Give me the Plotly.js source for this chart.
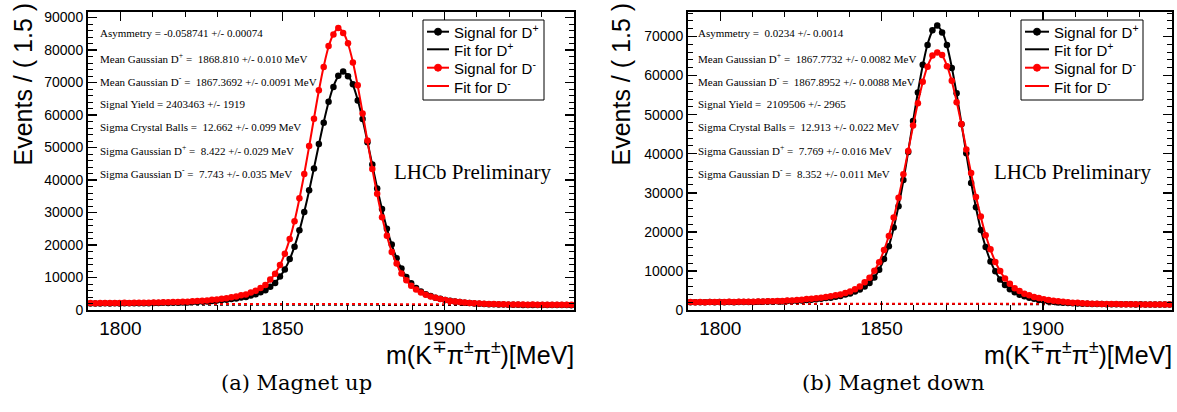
<!DOCTYPE html>
<html>
<head>
<meta charset="utf-8">
<script src="https://cdn.plot.ly/plotly-3.0.1.min.js"></script>
<style>
  html, body { margin: 0; padding: 0; background: #ffffff; }
  #chart { width: 1177px; height: 412px; }
</style>
</head>
<body>
<div id="chart"></div>
<script>
// Bin centres of the m(K pi pi) histograms: 100 bins of 1.5 MeV from 1790 to 1940
const mass = [
  1790.75,1792.25,1793.75,1795.25,1796.75,1798.25,1799.75,1801.25,1802.75,1804.25,
  1805.75,1807.25,1808.75,1810.25,1811.75,1813.25,1814.75,1816.25,1817.75,1819.25,
  1820.75,1822.25,1823.75,1825.25,1826.75,1828.25,1829.75,1831.25,1832.75,1834.25,
  1835.75,1837.25,1838.75,1840.25,1841.75,1843.25,1844.75,1846.25,1847.75,1849.25,
  1850.75,1852.25,1853.75,1855.25,1856.75,1858.25,1859.75,1861.25,1862.75,1864.25,
  1865.75,1867.25,1868.75,1870.25,1871.75,1873.25,1874.75,1876.25,1877.75,1879.25,
  1880.75,1882.25,1883.75,1885.25,1886.75,1888.25,1889.75,1891.25,1892.75,1894.25,
  1895.75,1897.25,1898.75,1900.25,1901.75,1903.25,1904.75,1906.25,1907.75,1909.25,
  1910.75,1912.25,1913.75,1915.25,1916.75,1918.25,1919.75,1921.25,1922.75,1924.25,
  1925.75,1927.25,1928.75,1930.25,1931.75,1933.25,1934.75,1936.25,1937.75,1939.25
];

// (a) Magnet up
const upSignalDplus = [
  1980,2031,1995,2048,2010,2061,2025,2070,2040,2095,2052,2110,2081,2150,2128,2199,2185,2260,2249,2330,
  2340,2450,2470,2600,2630,2805,2890,3070,3160,3375,3540,3840,4030,4480,4830,5470,6110,7160,8330,10300,
  12480,15680,19500,24520,30120,36850,43550,51050,57600,64100,68650,72050,73400,71950,69450,64450,58800,51600,44750,37380,
  31100,24980,20180,15890,12760,10120,8250,6760,5730,4880,4300,3785,3435,3090,2860,2610,2450,2262,2160,2028,
  1952,1858,1800,1738,1705,1656,1640,1598,1595,1563,1565,1540,1542,1519,1528,1510,1519,1503,1511,1495
];
const upFitDplus = [
  2005,2008,2019,2022,2032,2035,2046,2049,2059,2069,2073,2083,2100,2125,2149,2174,2206,2238,2269,2308,
  2361,2422,2489,2571,2653,2778,2917,3041,3187,3348,3566,3812,4058,4447,4858,5433,6144,7113,8374,10251,
  12542,15598,19584,24420,30229,36703,43699,50873,57776,63900,68822,71878,73190,72156,69264,64619,58631,51777,44602,37526,
  30987,25099,20090,15975,12696,10175,8212,6799,5702,4911,4285,3809,3419,3108,2846,2628,2438,2276,2151,2040,
  1943,1867,1792,1745,1698,1665,1633,1607,1589,1571,1559,1548,1537,1526,1522,1518,1514,1510,1506,1502
];
const upSignalDminus = [
  2161,2109,2170,2128,2141,2187,2156,2201,2176,2230,2199,2262,2238,2301,2296,2370,2361,2448,2459,2551,
  2575,2690,2737,2881,2930,3170,3268,3490,3610,3902,4141,4510,4806,5390,5940,6750,7702,9360,11140,13840,
  17300,21880,27330,34350,41850,50450,58880,67600,74800,81200,84750,86800,85250,82100,76150,69150,60500,52150,43350,35750,
  28520,22880,17850,14290,11210,9170,7440,6330,5350,4730,4120,3745,3360,3095,2800,2645,2430,2310,2150,2090,
  1965,1925,1835,1825,1760,1748,1700,1705,1668,1680,1640,1662,1625,1638,1610,1630,1600,1622,1595,1614
];
const upFitDminus = [
  2125,2130,2143,2147,2160,2165,2178,2182,2195,2208,2221,2234,2255,2285,2315,2345,2383,2430,2477,2524,
  2596,2669,2758,2856,2954,3145,3293,3459,3633,3875,4168,4477,4838,5351,5975,6709,7748,9312,11191,13782,
  17365,21804,27406,34254,41941,50315,59003,67454,74929,81005,84894,86586,85420,81939,76296,68957,60676,51980,43479,35623,
  28631,22784,17938,14212,11274,9116,7483,6292,5381,4698,4152,3715,3381,3071,2821,2622,2449,2292,2169,2072,
  1983,1911,1848,1810,1772,1734,1713,1692,1680,1667,1655,1651,1638,1626,1622,1618,1614,1610,1606,1602
];

// (b) Magnet down
const downSignalDplus = [
  1990,1952,2010,1975,2020,1985,2035,2001,2045,2012,2058,2025,2070,2049,2101,2095,2150,2140,2210,2205,
  2290,2300,2395,2430,2555,2600,2765,2870,3040,3165,3400,3600,3945,4200,4710,5230,6000,6910,8340,10310,
  13050,16310,21110,26540,33280,40450,48400,55650,62750,67850,71600,72800,71050,67850,61950,55500,47550,40150,32500,26300,
  20480,16150,12430,9890,7790,6410,5290,4560,3925,3515,3125,2855,2570,2400,2195,2085,1945,1868,1760,1715,
  1645,1625,1570,1558,1520,1518,1488,1492,1465,1468,1442,1450,1432,1440,1422,1430,1413,1420,1402,1410
];
const downFitDplus = [
  1969,1978,1987,1990,1999,2001,2010,2019,2021,2031,2033,2042,2051,2060,2084,2107,2130,2154,2191,2222,
  2267,2318,2377,2450,2531,2618,2741,2892,3015,3187,3374,3625,3918,4225,4675,5259,5964,6946,8290,10365,
  12973,16390,21007,26640,33152,40581,48265,55815,62569,68031,71384,72643,71232,67663,62148,55299,47718,39989,32663,26176,
  20583,16056,12508,9826,7840,6366,5324,4531,3951,3491,3146,2835,2589,2385,2210,2070,1958,1854,1771,1702,
  1654,1614,1580,1547,1528,1509,1496,1484,1472,1460,1448,1443,1438,1433,1428,1423,1418,1413,1408,1403
];
const downSignalDminus = [
  2040,2001,2052,2015,2050,2022,2065,2031,2080,2045,2101,2085,2138,2118,2190,2170,2240,2235,2320,2330,
  2425,2460,2565,2620,2790,2850,3015,3110,3320,3490,3770,3985,4380,4750,5340,6010,7080,8270,10060,12250,
  15380,18950,23680,28700,34720,40680,47200,52900,58450,62250,65150,65900,65250,62400,58700,53200,47600,41050,35050,28950,
  23920,19120,15530,12280,9990,8040,6700,5580,4840,4175,3750,3320,3060,2770,2585,2370,2250,2085,1998,1882,
  1826,1732,1693,1625,1612,1552,1548,1505,1508,1470,1476,1448,1452,1425,1436,1416,1425,1407,1414,1398
];
const downFitDminus = [
  2020,2022,2030,2031,2033,2040,2042,2050,2058,2066,2080,2101,2115,2136,2163,2190,2217,2251,2297,2344,
  2403,2476,2541,2640,2763,2868,2992,3128,3297,3511,3744,4003,4353,4773,5309,6044,7037,8308,10016,12297,
  15312,19023,23584,28802,34593,40796,47070,53041,58278,62395,64985,66043,65098,62568,58564,53362,47464,41187,34922,29070,
  23816,19213,15453,12351,9931,8090,6662,5614,4810,4200,3725,3340,3039,2789,2565,2386,2233,2099,1985,1896,
  1814,1744,1681,1638,1600,1563,1539,1515,1497,1479,1467,1456,1444,1433,1428,1423,1418,1413,1408,1403
];

// Combinatorial background components (linear), evaluated at the range ends
const bkgMass = [1790, 1940];
const upBkgDplus = [1700, 1500];
const upBkgDminus = [1900, 1750];
const downBkgDplus = [1600, 1450];
const downBkgDminus = [1650, 1550];

// Fit results printed on each panel
const upStats = [
  'Asymmetry = -0.058741 +/- 0.00074',
  'Mean Gaussian D<sup>+</sup> =  1868.810 +/- 0.010 MeV',
  'Mean Gaussian D<sup>-</sup> =  1867.3692 +/- 0.0091 MeV',
  'Signal Yield = 2403463 +/- 1919',
  'Sigma Crystal Balls =  12.662 +/- 0.099 MeV',
  'Sigma Gaussian D<sup>+</sup> =  8.422 +/- 0.029 MeV',
  'Sigma Gaussian D<sup>-</sup> =  7.743 +/- 0.035 MeV'
];
const downStats = [
  'Asymmetry =  0.0234 +/- 0.0014',
  'Mean Gaussian D<sup>+</sup> =  1867.7732 +/- 0.0082 MeV',
  'Mean Gaussian D<sup>-</sup> =  1867.8952 +/- 0.0088 MeV',
  'Signal Yield =  2109506 +/- 2965',
  'Sigma Crystal Balls =  12.913 +/- 0.022 MeV',
  'Sigma Gaussian D<sup>+</sup> =  7.769 +/- 0.016 MeV',
  'Sigma Gaussian D<sup>-</sup> =  8.352 +/- 0.011 MeV'
];
const legendLabels = ['Signal for D<sup>+</sup>', 'Fit for D<sup>+</sup>', 'Signal for D<sup>-</sup>', 'Fit for D<sup>-</sup>'];
const captions = ['(a) Magnet up', '(b) Magnet down'];

// ---------- page geometry (pixels) ----------
const W = 1177, H = 412;
const fx = x => x / W;
const fy = y => 1 - y / H;
const SANS = 'Liberation Sans, Arial, Helvetica, sans-serif';
const SERIF = 'Liberation Serif, Times New Roman, serif';
const RED = '#ff0000', BLACK = '#000000';

const panels = [
  { xa: 'x', ya: 'y', left: 88, right: 574, yMax: 91700,
    sigP: upSignalDplus, fitP: upFitDplus, sigM: upSignalDminus, fitM: upFitDminus,
    bkgP: upBkgDplus, bkgM: upBkgDminus, stats: upStats, caption: captions[0],
    titleX: 22, legLeft: 423, legRight: 544, sampleL: 427, sampleR: 449, textL: 452,
    statsX: 98, lhcbX: 392, capX: 297 },
  { xa: 'x2', ya: 'y2', left: 688, right: 1172, yMax: 76270,
    sigP: downSignalDplus, fitP: downFitDplus, sigM: downSignalDminus, fitM: downFitDminus,
    bkgP: downBkgDplus, bkgM: downBkgDminus, stats: downStats, caption: captions[1],
    titleX: 620, legLeft: 1021, legRight: 1143, sampleL: 1025, sampleR: 1049, textL: 1052,
    statsX: 696, lhcbX: 992, capX: 893 }
];

const TOP = 12, BOTTOM = 310;
const traces = [];
const shapes = [];
const annotations = [];
const layout = {
  width: W, height: H,
  margin: { l: 0, r: 0, t: 0, b: 0 },
  paper_bgcolor: '#ffffff', plot_bgcolor: '#ffffff',
  showlegend: false,
  font: { family: SANS, color: BLACK }
};

panels.forEach((p, k) => {
  const sfx = k === 0 ? '' : '2';
  layout['xaxis' + sfx] = {
    domain: [fx(p.left), fx(p.right)], anchor: 'y' + sfx,
    range: [1790, 1940], tickmode: 'linear', tick0: 1800, dtick: 50,
    ticks: 'inside', ticklen: 9, tickwidth: 1.5, tickcolor: BLACK,
    minor: { dtick: 10, tick0: 1790, ticks: 'inside', ticklen: 5, tickwidth: 1, tickcolor: BLACK },
    showline: true, linewidth: 2, linecolor: BLACK, mirror: 'ticks',
    showgrid: false, zeroline: false,
    tickfont: { family: SANS, size: 19, color: BLACK }
  };
  layout['yaxis' + sfx] = {
    domain: [fy(BOTTOM), fy(TOP)], anchor: 'x' + sfx,
    range: [0, p.yMax], tickmode: 'linear', tick0: 0, dtick: 10000, tickformat: 'd',
    ticks: 'inside', ticklen: 9, tickwidth: 1.5, tickcolor: BLACK,
    minor: { dtick: 2000, ticks: 'inside', ticklen: 5, tickwidth: 1, tickcolor: BLACK },
    showline: true, linewidth: 2, linecolor: BLACK, mirror: 'ticks',
    showgrid: false, zeroline: false,
    tickfont: { family: SANS, size: 14, color: BLACK }
  };

  const common = { xaxis: p.xa, yaxis: p.ya, hoverinfo: 'skip' };
  // background components (dotted)
  traces.push(Object.assign({ type: 'scatter', mode: 'lines', x: bkgMass, y: p.bkgP,
    line: { color: BLACK, width: 2, dash: 'dot' } }, common));
  traces.push(Object.assign({ type: 'scatter', mode: 'lines', x: bkgMass, y: p.bkgM,
    line: { color: RED, width: 2, dash: 'dot' } }, common));
  // D+ : data and fit
  traces.push(Object.assign({ type: 'scatter', mode: 'markers', x: mass, y: p.sigP,
    marker: { color: BLACK, size: 6.5, symbol: 'circle' } }, common));
  traces.push(Object.assign({ type: 'scatter', mode: 'lines', x: mass, y: p.fitP,
    line: { color: BLACK, width: 2, shape: 'spline' } }, common));
  // D- : data and fit
  traces.push(Object.assign({ type: 'scatter', mode: 'markers', x: mass, y: p.sigM,
    marker: { color: RED, size: 6.5, symbol: 'circle' } }, common));
  traces.push(Object.assign({ type: 'scatter', mode: 'lines', x: mass, y: p.fitM,
    line: { color: RED, width: 2, shape: 'spline' } }, common));

  // axis titles
  annotations.push({ xref: 'paper', yref: 'paper', x: fx(p.titleX), y: fy(168),
    xanchor: 'center', yanchor: 'bottom', textangle: -90, showarrow: false,
    text: 'Events / ( 1.5 )', font: { family: SANS, size: 25, color: BLACK } });
  annotations.push({ xref: 'paper', yref: 'paper', x: fx(p.right + 2), y: fy(353),
    xanchor: 'right', yanchor: 'middle', showarrow: false,
    text: 'm(K<sup>∓</sup>π<sup>±</sup>π<sup>±</sup>)[MeV]', font: { family: SANS, size: 25, color: BLACK } });

  // fit summary block
  const rows = [33.3, 57.7, 81, 103.7, 127.3, 150.3, 173.3];
  p.stats.forEach((s, i) => {
    annotations.push({ xref: 'paper', yref: 'paper', x: fx(p.statsX), y: fy(rows[i]),
      xanchor: 'left', yanchor: 'middle', showarrow: false, text: s,
      font: { family: SERIF, size: 11, color: BLACK } });
  });
  annotations.push({ xref: 'paper', yref: 'paper', x: fx(p.lhcbX), y: fy(172),
    xanchor: 'left', yanchor: 'middle', showarrow: false, text: 'LHCb Preliminary',
    font: { family: SERIF, size: 21, color: BLACK } });

  // caption under the panel
  annotations.push({ xref: 'paper', yref: 'paper', x: fx(p.capX), y: fy(383),
    xanchor: 'center', yanchor: 'middle', showarrow: false, text: p.caption,
    font: { family: 'DejaVu Serif, serif', size: 21, color: BLACK } });

  // legend box
  shapes.push({ type: 'rect', xref: 'paper', yref: 'paper',
    x0: fx(p.legLeft), x1: fx(p.legRight), y0: fy(100), y1: fy(20),
    line: { color: BLACK, width: 1 }, fillcolor: '#ffffff', layer: 'above' });
  const legRows = [31.7, 49.3, 67.7, 86];
  const legColors = [BLACK, BLACK, RED, RED];
  legRows.forEach((ly, i) => {
    shapes.push({ type: 'line', xref: 'paper', yref: 'paper',
      x0: fx(p.sampleL), x1: fx(p.sampleR), y0: fy(ly), y1: fy(ly),
      line: { color: legColors[i], width: 2 }, layer: 'above' });
    if (i % 2 === 0) {
      const cx = (p.sampleL + p.sampleR) / 2, r = 3.5;
      shapes.push({ type: 'circle', xref: 'paper', yref: 'paper',
        x0: fx(cx - r), x1: fx(cx + r), y0: fy(ly + r), y1: fy(ly - r),
        line: { color: legColors[i], width: 1 }, fillcolor: legColors[i], layer: 'above' });
    }
    annotations.push({ xref: 'paper', yref: 'paper', x: fx(p.textL), y: fy(ly),
      xanchor: 'left', yanchor: 'middle', showarrow: false, text: legendLabels[i],
      font: { family: SANS, size: 15, color: BLACK } });
  });
});

layout.shapes = shapes;
layout.annotations = annotations;

Plotly.newPlot('chart', traces, layout, { staticPlot: true, displayModeBar: false });
</script>
</body>
</html>
